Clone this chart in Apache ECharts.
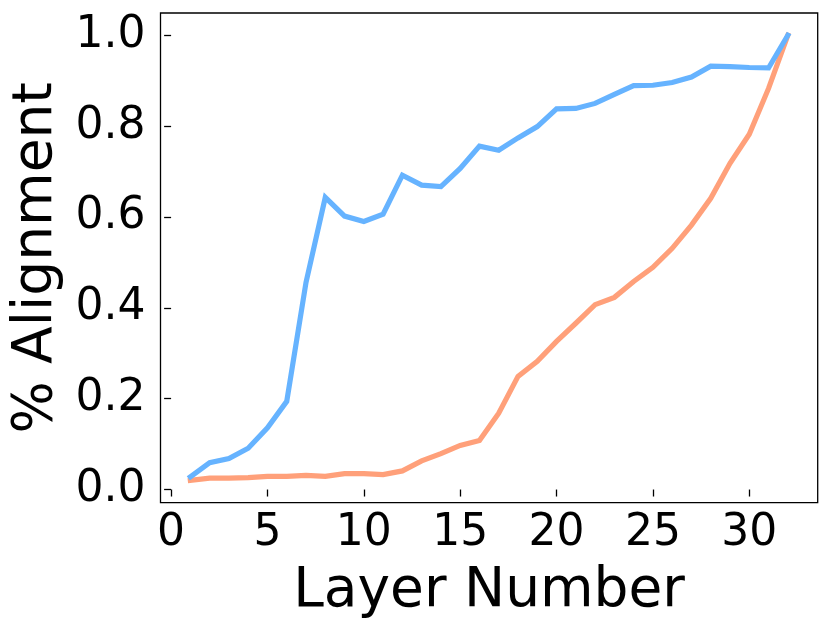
<!DOCTYPE html>
<html>
<head>
<meta charset="utf-8">
<script src="https://cdn.jsdelivr.net/npm/echarts@6/dist/echarts.min.js"></script>
<style>
html,body{margin:0;padding:0;background:#fff;}
#chart{width:831px;height:635px;}
</style>
</head>
<body>
<div id="chart"></div>
<script>
const layers = [1,2,3,4,5,6,7,8,9,10,11,12,13,14,15,16,17,18,19,20,21,22,23,24,25,26,27,28,29,30,31,32];
const blueValues = [0.028,0.059,0.068,0.091,0.136,0.194,0.456,0.643,0.602,0.590,0.606,0.692,0.670,0.667,0.707,0.756,0.747,0.774,0.799,0.838,0.839,0.850,0.870,0.889,0.890,0.896,0.908,0.932,0.931,0.929,0.928,1.0];
const orangeValues = [0.020,0.025,0.025,0.026,0.029,0.029,0.031,0.029,0.035,0.035,0.033,0.041,0.063,0.079,0.097,0.108,0.168,0.249,0.282,0.326,0.366,0.407,0.423,0.458,0.489,0.531,0.582,0.641,0.718,0.782,0.883,1.0];
const xTicks = [0,5,10,15,20,25,30];
const yTicks = [0.0,0.2,0.4,0.6,0.8,1.0];
const xLabel = 'Layer Number';
const yLabel = '% Alignment';

const font = 'DejaVu Sans';
const chart = echarts.init(document.getElementById('chart'), null, {renderer:'canvas'});
chart.setOption({
  animation:false,
  backgroundColor:'#fff',
  grid:{left:160.5, right:13.3, top:13, bottom:132.3, show:true, borderColor:'#000', borderWidth:1.3, containLabel:false},
  xAxis:{
    type:'value', min:-0.55, max:33.55,
    name:xLabel, nameLocation:'middle', nameGap:62,
    nameTextStyle:{fontFamily:font, fontSize:55, color:'#000'},
    axisLine:{show:false},
    axisTick:{show:true, customValues:xTicks, length:7, inside:false, lineStyle:{color:'#000', width:1.3}},
    axisLabel:{customValues:xTicks, fontFamily:font, fontSize:44, color:'#000', margin:9},
    splitLine:{show:false}
  },
  yAxis:{
    type:'value', min:-0.029, max:1.049,
    name:yLabel, nameLocation:'middle', nameGap:88,
    nameTextStyle:{fontFamily:font, fontSize:55, color:'#000'},
    axisLine:{show:false},
    axisTick:{show:true, customValues:yTicks, length:7, inside:false, lineStyle:{color:'#000', width:1.3}},
    axisLabel:{customValues:yTicks, fontFamily:font, fontSize:44, color:'#000', margin:15,
      formatter:function(v){return Number(v).toFixed(1);}},
    splitLine:{show:false}
  },
  series:[
    {type:'line', data:layers.map((x,i)=>[x,orangeValues[i]]), showSymbol:false, symbol:'none',
     lineStyle:{color:'#ffa07a', width:5.2, cap:'square', join:'miter'}, z:2},
    {type:'line', data:layers.map((x,i)=>[x,blueValues[i]]), showSymbol:false, symbol:'none',
     lineStyle:{color:'#66b3ff', width:5.2, cap:'square', join:'miter'}, z:3}
  ]
});
</script>
</body>
</html>
